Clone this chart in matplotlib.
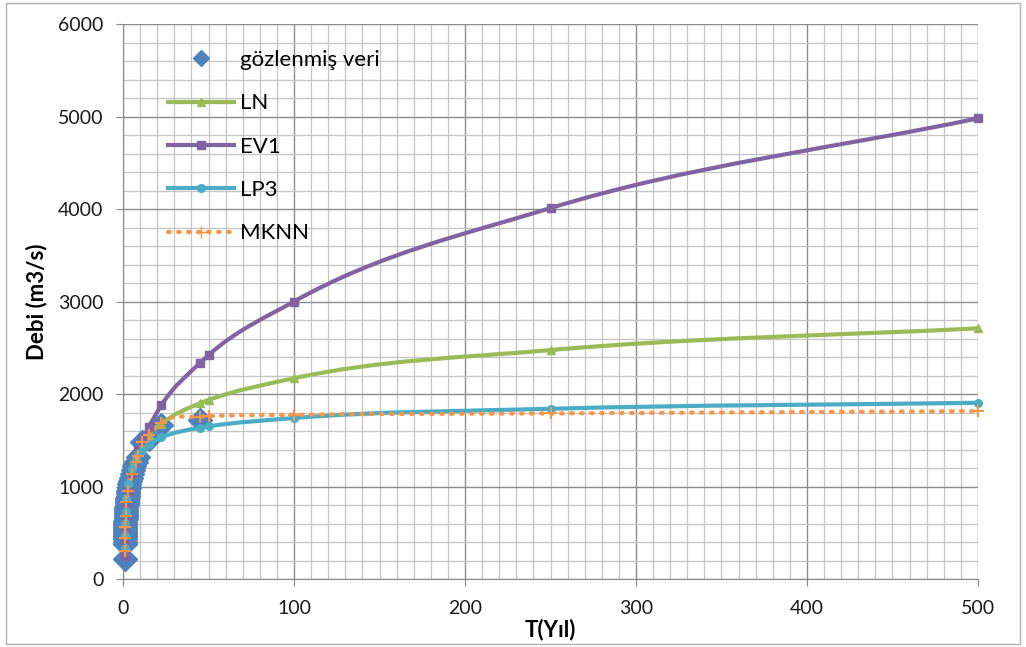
import numpy as np
import matplotlib
matplotlib.use('Agg')
import matplotlib.pyplot as plt
from matplotlib.path import Path
from matplotlib.patches import PathPatch, Rectangle
from matplotlib.lines import Line2D
from matplotlib.ticker import MultipleLocator

plt.rcParams['font.family'] = ['Lato', 'DejaVu Sans']

# observed data (Weibull plotting positions)
obs_T = [45.0, 22.5, 15.0, 11.25, 9.0, 7.5, 6.43, 5.63, 5.0, 4.5, 4.09, 3.75,
         3.46, 3.21, 3.0, 2.81, 2.65, 2.5, 2.37, 2.25, 2.14, 2.05, 1.96, 1.88,
         1.8, 1.73, 1.67, 1.61, 1.55, 1.5, 1.45, 1.41, 1.36, 1.32, 1.29, 1.25,
         1.22, 1.18, 1.15, 1.13, 1.1, 1.07, 1.05, 1.02]
obs_Q = [1720, 1660, 1510, 1480, 1320, 1260, 1220, 1180, 1130, 1090, 1060, 1030,
         1000, 980, 950, 930, 900, 880, 860, 840, 820, 800, 780, 760,
         740, 720, 700, 680, 665, 650, 630, 610, 590, 570, 550, 530,
         510, 490, 470, 450, 430, 400, 380, 220]

# model estimates
model_T = [1.02, 1.1, 1.25, 1.5, 2, 3, 5, 7.5, 9, 11.25, 15, 22.5, 45, 50, 100, 250, 500]
ln_Q = [380, 500, 620, 740, 880, 1030, 1200, 1340, 1400, 1470, 1560, 1680, 1900, 1935, 2170, 2475, 2710]
ev1_Q = [250, 380, 500, 620, 780, 950, 1150, 1320, 1400, 1500, 1640, 1880, 2335, 2420, 3000, 4010, 4980]
lp3_Q = [330, 480, 610, 740, 880, 1030, 1190, 1300, 1350, 1400, 1460, 1530, 1635, 1650, 1740, 1840, 1905]
mknn_Q = [300, 440, 560, 680, 830, 950, 1130, 1260, 1330, 1480, 1560, 1690, 1755, 1760, 1775, 1790, 1815]


def smooth_path(x, y):
    # cubic bezier through the points, like Excel's smoothed line
    x = np.asarray(x, float)
    y = np.asarray(y, float)
    h = np.diff(x)
    d = np.diff(y) / h
    m = np.empty_like(y)
    m[0], m[-1] = d[0], d[-1]
    m[1:-1] = (d[:-1] * h[1:] + d[1:] * h[:-1]) / (h[:-1] + h[1:])
    verts = [(x[0], y[0])]
    codes = [Path.MOVETO]
    for i in range(len(h)):
        verts += [(x[i] + h[i] / 3, y[i] + m[i] * h[i] / 3),
                  (x[i + 1] - h[i] / 3, y[i + 1] - m[i + 1] * h[i] / 3),
                  (x[i + 1], y[i + 1])]
        codes += [Path.CURVE4] * 3
    return Path(verts, codes)


fig = plt.figure(figsize=(10.26, 6.47), dpi=100)
ax = fig.add_axes([0.1199, 0.1051, 0.8333, 0.8578])

ax.set_xlim(0, 500)
ax.set_ylim(0, 6000)
ax.xaxis.set_major_locator(MultipleLocator(100))
ax.xaxis.set_minor_locator(MultipleLocator(10))
ax.yaxis.set_major_locator(MultipleLocator(1000))
ax.yaxis.set_minor_locator(MultipleLocator(200))
ax.grid(which='major', color='#8c8c8c', lw=1.0)
ax.grid(which='minor', color='#c4c4c4', lw=0.9)
ax.set_axisbelow(True)
ax.tick_params(which='major', labelsize=14, length=5, color='#888888', labelcolor='#1a1a1a')
ax.tick_params(axis='y', pad=9)
ax.tick_params(axis='x', pad=10)
ax.tick_params(which='minor', length=0)
for s in ['top', 'right']:
    ax.spines[s].set_visible(False)
for s in ['left', 'bottom']:
    ax.spines[s].set_color('#888888')

c_obs = '#4f81bd'
series = [
    ('LN', ln_Q, '#9bbb59', '^', '-'),
    ('EV1', ev1_Q, '#8064a2', 's', '-'),
    ('LP3', lp3_Q, '#4bacc6', 'o', '-'),
    ('MKNN', mknn_Q, '#f79646', '+', (0, (0.4, 2.0))),
]

ax.plot(obs_T, obs_Q, ls='none', marker='D', ms=12, color=c_obs, zorder=3, clip_on=False)

handles = [Line2D([], [], ls='none', marker='D', ms=8.5, color=c_obs)]
labels = ['gözlenmiş veri']
for name, q, col, mk, ls in series:
    patch = PathPatch(smooth_path(model_T, q), fill=False, ec=col, lw=3,
                      ls=ls, capstyle='round', zorder=4)
    ax.add_patch(patch)
    ax.plot(model_T, q, ls='none', marker=mk, ms=5.5 if mk != '+' else 9,
            mew=1.5 if mk == '+' else 1, color=col, zorder=5, clip_on=False)
    handles.append(Line2D([], [], color=col, lw=3, ls=ls, marker=mk,
                          ms=5.5 if mk != '+' else 9, dash_capstyle='round'))
    labels.append(name)

ax.legend(handles, labels, loc='upper left', bbox_to_anchor=(0.0526, 0.953),
          frameon=False, fontsize=16, handlelength=2.95, handletextpad=0.3,
          labelspacing=1.05, borderpad=0, borderaxespad=0)

ax.set_xlabel('T(Yıl)', fontsize=16, fontweight='bold', labelpad=1)
ax.set_ylabel('Debi (m3/s)', fontsize=16, fontweight='bold', labelpad=8)

fig.patches.append(Rectangle((0.006, 0.005), 0.988, 0.99, transform=fig.transFigure,
                             fill=False, ec='#b0b0b0', lw=1))

fig.savefig('out.png', dpi=100)
